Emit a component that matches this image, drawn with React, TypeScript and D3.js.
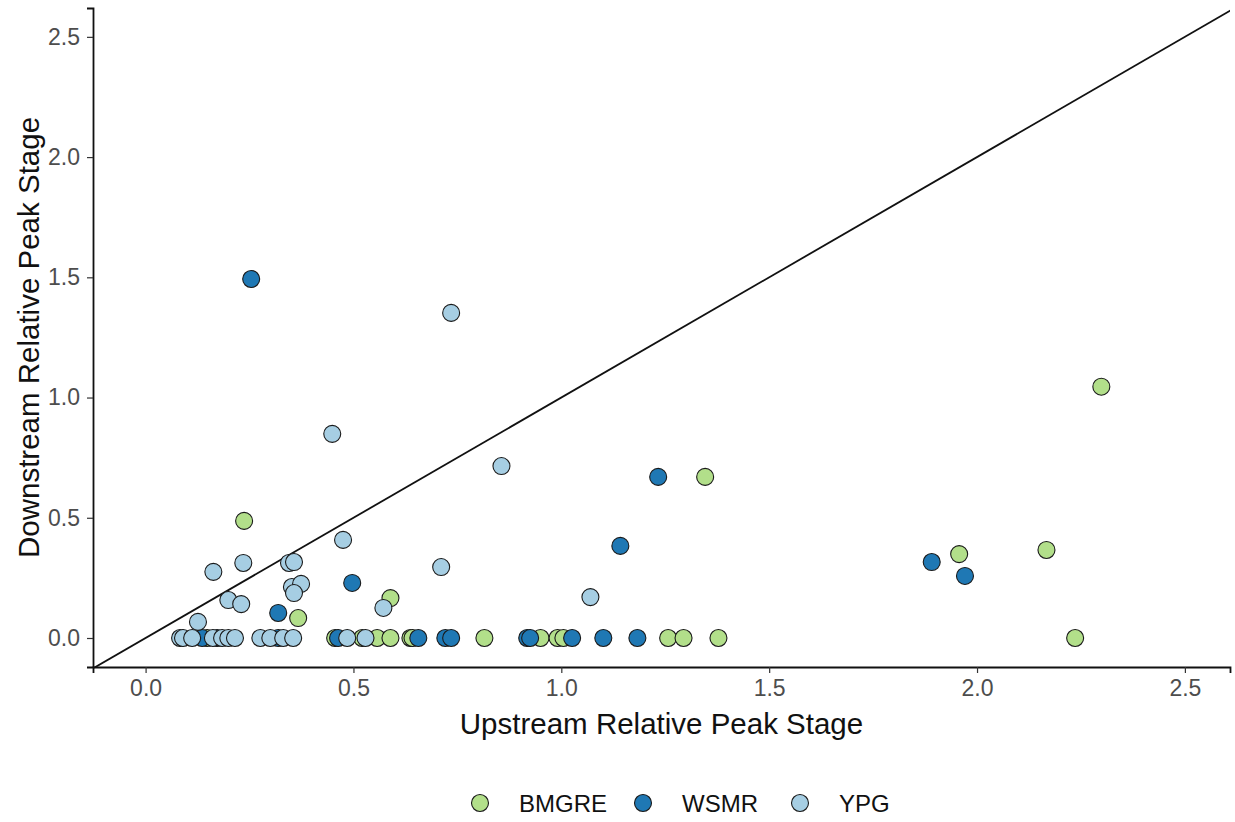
import React, { useEffect, useRef } from 'react';
import * as d3 from 'd3';

interface IPoint {
  x: number;
  y: number;
  site: string;
}

const sites = ['BMGRE', 'WSMR', 'YPG'];
const siteColors = ['#b2df8a', '#1f78b4', '#a6cee3'];
const tickValues = [0, 0.5, 1, 1.5, 2, 2.5];

// upstream / downstream relative peak stage
const bmgreUp = [2.299, 1.346, 0.237, 0.367, 0.589, 1.957, 2.167, 2.236,
  0.148, 0.456, 0.521, 0.557, 0.589, 0.637, 0.642, 0.815, 0.95, 0.991, 1.005, 1.257, 1.294, 1.378];
const bmgreDown = [1.045, 0.67, 0.487, 0.083, 0.166, 0.349, 0.366, 0,
  0, 0, 0, 0, 0, 0, 0, 0, 0, 0, 0, 0, 0, 0];

const wsmrUp = [0.254, 0.319, 0.497, 1.142, 1.233, 1.891, 1.971,
  0.136, 0.172, 0.319, 0.463, 0.656, 0.721, 0.735, 0.918, 0.925, 1.026, 1.101, 1.183];
const wsmrDown = [1.493, 0.104, 0.229, 0.383, 0.67, 0.316, 0.258,
  0, 0, 0, 0, 0, 0, 0, 0, 0, 0, 0, 0];

const ypgUp = [0.735, 0.449, 0.856, 0.475, 0.711, 1.07, 0.572, 0.163, 0.235, 0.199, 0.23, 0.126,
  0.345, 0.357, 0.352, 0.374, 0.357,
  0.083, 0.09, 0.112, 0.162, 0.184, 0.199, 0.215, 0.276, 0.3, 0.331, 0.355, 0.485, 0.529];
const ypgDown = [1.352, 0.849, 0.715, 0.408, 0.295, 0.17, 0.125, 0.275, 0.312, 0.158, 0.141, 0.067,
  0.312, 0.316, 0.212, 0.225, 0.187,
  0, 0, 0, 0, 0, 0, 0, 0, 0, 0, 0, 0, 0];

const toPoints = (xs: number[], ys: number[], site: string): IPoint[] =>
  xs.map((x, i) => ({ x, y: ys[i], site }));

const data: IPoint[] = [
  ...toPoints(bmgreUp, bmgreDown, 'BMGRE'),
  ...toPoints(wsmrUp, wsmrDown, 'WSMR'),
  ...toPoints(ypgUp, ypgDown, 'YPG'),
];

const App: React.FC = () => {
  const ref = useRef<SVGSVGElement>(null);

  useEffect(() => {
    if (ref.current) drawChart(ref.current);
  }, []);

  return (
    <svg
      ref={ref}
      width={1235}
      height={822}
      style={{ position: 'absolute', left: 0, top: 0, background: '#fff' }}
    />
  );
};

const drawChart = (el: SVGSVGElement) => {
  const margin = { top: 8, left: 93, right: 5, bottom: 155 };
  const width = 1235 - margin.left - margin.right;
  const height = 822 - margin.top - margin.bottom;
  const font = '"Liberation Sans", Arial, sans-serif';

  const root = d3.select(el);
  root.selectAll('*').remove();

  const svg = root.append('g').attr('transform', `translate(${margin.left}, ${margin.top})`);

  const xScale = d3.scaleLinear().domain([-0.1265, 2.6085]).range([0, width]);
  const yScale = d3.scaleLinear().domain([-0.1206, 2.62]).range([height, 0]);
  const colorScale = d3.scaleOrdinal<string, string>().domain(sites).range(siteColors);

  root
    .append('defs')
    .append('clipPath')
    .attr('id', 'plot-clip')
    .append('rect')
    .attr('width', width)
    .attr('height', height);

  // 1:1 line
  const lo = -0.13;
  const hi = 2.7;
  svg
    .append('line')
    .attr('clip-path', 'url(#plot-clip)')
    .attr('x1', xScale(lo))
    .attr('y1', yScale(lo))
    .attr('x2', xScale(hi))
    .attr('y2', yScale(hi))
    .attr('stroke', '#111')
    .attr('stroke-width', 1.8);

  svg
    .append('g')
    .selectAll('circle')
    .data(data)
    .enter()
    .append('circle')
    .attr('cx', (d) => xScale(d.x))
    .attr('cy', (d) => yScale(d.y))
    .attr('r', 8.5)
    .attr('fill', (d) => colorScale(d.site))
    .attr('stroke', '#1a1a1a')
    .attr('stroke-width', 1.1);

  const xAxisG = svg.append('g').attr('transform', `translate(0, ${height})`);
  xAxisG.call(
    d3.axisBottom(xScale).tickValues(tickValues).tickSize(6).tickPadding(7).tickFormat(d3.format('.1f'))
  );

  const yAxisG = svg.append('g');
  yAxisG.call(
    d3.axisLeft(yScale).tickValues(tickValues).tickSize(6).tickPadding(7).tickFormat(d3.format('.1f'))
  );

  svg.selectAll('.domain').attr('stroke', '#111').attr('stroke-width', 1.8);
  svg.selectAll('.tick line').attr('stroke', '#333').attr('stroke-width', 1.2);
  svg
    .selectAll('.tick text')
    .attr('fill', '#4d4d4d')
    .style('font-family', font)
    .style('font-size', '23px');

  root
    .append('text')
    .attr('x', margin.left + width / 2)
    .attr('y', 734)
    .attr('text-anchor', 'middle')
    .attr('fill', '#111')
    .style('font-family', font)
    .style('font-size', '29.5px')
    .text('Upstream Relative Peak Stage');

  root
    .append('text')
    .attr('transform', `translate(39, ${margin.top + height / 2}) rotate(-90)`)
    .attr('text-anchor', 'middle')
    .attr('fill', '#111')
    .style('font-family', font)
    .style('font-size', '29.5px')
    .text('Downstream Relative Peak Stage');

  // legend
  const legendX = [480, 643, 800];
  const legend = root
    .append('g')
    .selectAll('g')
    .data(sites)
    .enter()
    .append('g')
    .attr('transform', (d, i) => `translate(${legendX[i]}, 803)`);

  legend
    .append('circle')
    .attr('r', 8.5)
    .attr('fill', (d) => colorScale(d))
    .attr('stroke', '#1a1a1a')
    .attr('stroke-width', 1.1);

  legend
    .append('text')
    .attr('x', 39)
    .attr('y', 8.5)
    .attr('fill', '#111')
    .style('font-family', font)
    .style('font-size', '24px')
    .text((d) => d);
};

export default App;
